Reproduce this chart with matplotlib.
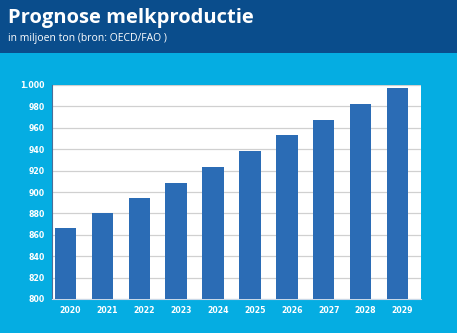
import matplotlib
matplotlib.use("Agg")
import matplotlib.pyplot as plt
from matplotlib.patches import Rectangle
from matplotlib.ticker import FuncFormatter

# Data
years = ["2020", "2021", "2022", "2023", "2024", "2025", "2026", "2027", "2028", "2029"]
production = [866, 880, 894, 908, 923, 938, 953, 967, 982, 997]

dark_blue = "#0a4d8c"
cyan = "#05ade2"
bar_blue = "#2b6cb5"

fig = plt.figure(figsize=(4.57, 3.33), dpi=100)
fig.patch.set_facecolor(cyan)

# dark header band
fig.add_artist(Rectangle((0, 1 - 53 / 333), 1, 53 / 333, transform=fig.transFigure,
                         facecolor=dark_blue, edgecolor="none", zorder=0))
fig.text(8 / 457, 1 - 18 / 333, "Prognose melkproductie", color="white",
         fontsize=14.5, fontweight="bold", family="Open Sans", va="center", ha="left")
fig.text(8 / 457, 1 - 39 / 333, "in miljoen ton (bron: OECD/FAO )", color="white",
         fontsize=7.5, family="Open Sans", va="center", ha="left")

ax = fig.add_axes([52 / 457, 1 - 299 / 333, (421 - 52) / 457, (299 - 85) / 333])
ax.set_facecolor("white")
x = list(range(len(years)))
# bars sit a little left of their category slot, as in the original
ax.bar([i - 0.135 for i in x], production, width=0.58, color=bar_blue, zorder=3)

ax.set_ylim(800, 1000)
ax.set_xlim(-0.5, len(years) - 0.5)
ax.set_yticks(range(800, 1001, 20))
ax.yaxis.set_major_formatter(FuncFormatter(lambda v, p: f"{int(v):,}".replace(",", ".")))
ax.set_xticks(x)
ax.set_xticklabels(years)
ax.grid(axis="y", color="#d0d0d0", linewidth=0.9, zorder=0)
ax.tick_params(length=0, colors="white", labelsize=5.6, pad=5)
for lbl in ax.get_xticklabels() + ax.get_yticklabels():
    lbl.set_fontweight("bold")
for side in ["top", "right"]:
    ax.spines[side].set_visible(False)
ax.spines["left"].set_color("#4a6f9a")
ax.spines["bottom"].set_color("#c8d8e8")

fig.savefig("out.png", dpi=100, facecolor=fig.get_facecolor())
